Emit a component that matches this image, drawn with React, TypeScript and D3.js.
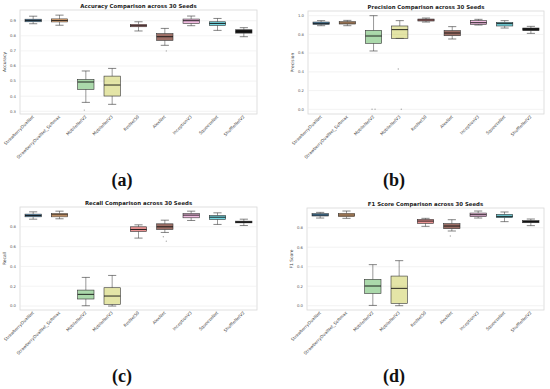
import * as React from 'react';
import { scaleBand, scaleLinear } from 'd3';

// models on the x axis
const models = [
  'StrawberryDualNet', 'StrawberryDualNet_Softmax', 'MobileNetV2', 'MobileNetV3',
  'ResNet50', 'AlexNet', 'InceptionV3', 'SqueezeNet', 'ShuffleNetV2'
];

// box colours per model
const boxColors = ['#1f77b4', '#ff7f0e', '#2ca02c', '#bcbd22', '#d62728', '#8c564b', '#e377c2', '#17becf', '#000000'];
const boxAlpha = [0.75, 0.5, 0.4, 0.4, 0.5, 0.85, 0.5, 0.6, 0.9];

// [whiskerLow, q1, median, q3, whiskerHigh]
const accuracyBoxes = [
  [0.880, 0.893, 0.902, 0.910, 0.930],
  [0.870, 0.892, 0.902, 0.912, 0.937],
  [0.359, 0.445, 0.494, 0.511, 0.567],
  [0.346, 0.401, 0.474, 0.533, 0.584],
  [0.832, 0.860, 0.867, 0.876, 0.893],
  [0.737, 0.770, 0.794, 0.814, 0.849],
  [0.867, 0.882, 0.900, 0.911, 0.931],
  [0.836, 0.869, 0.882, 0.893, 0.915],
  [0.794, 0.818, 0.829, 0.840, 0.854],
];
const accuracyOutliers = [[2, 0.308], [5, 0.700]];

const precisionBoxes = [
  [0.893, 0.907, 0.918, 0.932, 0.947],
  [0.893, 0.911, 0.922, 0.936, 0.950],
  [0.623, 0.705, 0.783, 0.843, 1.000],
  [0.758, 0.758, 0.851, 0.890, 0.947],
  [0.932, 0.943, 0.954, 0.964, 0.975],
  [0.751, 0.786, 0.815, 0.840, 0.883],
  [0.900, 0.907, 0.925, 0.947, 0.961],
  [0.868, 0.890, 0.915, 0.929, 0.947],
  [0.811, 0.840, 0.858, 0.868, 0.886],
];
const precisionOutliers = [[2, 0.0], [2, 0.0], [3, 0.43], [3, 0.0]];

const recallBoxes = [
  [0.877, 0.901, 0.914, 0.928, 0.951],
  [0.881, 0.901, 0.921, 0.934, 0.958],
  [0.003, 0.071, 0.118, 0.161, 0.289],
  [0.000, 0.017, 0.101, 0.185, 0.309],
  [0.686, 0.753, 0.773, 0.800, 0.820],
  [0.743, 0.773, 0.800, 0.830, 0.867],
  [0.864, 0.891, 0.918, 0.934, 0.958],
  [0.824, 0.874, 0.897, 0.914, 0.941],
  [0.813, 0.840, 0.847, 0.857, 0.877],
];
const recallOutliers = [[5, 0.700], [5, 0.655]];

const f1Boxes = [
  [0.899, 0.920, 0.930, 0.944, 0.957],
  [0.896, 0.913, 0.930, 0.947, 0.971],
  [0.003, 0.126, 0.202, 0.270, 0.421],
  [0.000, 0.024, 0.178, 0.304, 0.462],
  [0.814, 0.844, 0.868, 0.885, 0.896],
  [0.766, 0.790, 0.817, 0.841, 0.882],
  [0.899, 0.913, 0.933, 0.950, 0.971],
  [0.862, 0.903, 0.916, 0.937, 0.961],
  [0.821, 0.851, 0.862, 0.872, 0.889],
];
const f1Outliers = [[5, 0.715]];

const accuracyTicks = [0.3, 0.4, 0.5, 0.6, 0.7, 0.8, 0.9];
const precisionTicks = [0.0, 0.2, 0.4, 0.6, 0.8, 1.0];
const recallTicks = [0.0, 0.2, 0.4, 0.6, 0.8];
const f1Ticks = [0.0, 0.2, 0.4, 0.6, 0.8];

interface PanelProps {
  title: string,
  yLabel: string,
  boxes: number[][],
  outliers: number[][],
  ticks: number[],
  yDomain: [number, number],
  frame: { left: number, right: number, top: number, bottom: number },
  tag: string,
  tagPos: [number, number]
}

const Panel = ({ title, yLabel, boxes, outliers, ticks, yDomain, frame, tag, tagPos }: PanelProps) => {
  const x = scaleBand<string>().domain(models).range([frame.left, frame.right]).padding(0);
  const y = scaleLinear().domain(yDomain).range([frame.bottom, frame.top]);
  const bw = x.bandwidth() * 0.62;
  const cap = bw * 0.5;
  const cx = (m: string) => (x(m) || 0) + x.bandwidth() / 2;

  return (
    <g>
      <rect x={frame.left} y={frame.top} width={frame.right - frame.left} height={frame.bottom - frame.top}
        fill="white" stroke="#d8d8d8" strokeWidth={0.8} />
      {ticks.map(t => (
        <g key={t}>
          <line x1={frame.left} x2={frame.right} y1={y(t)} y2={y(t)} stroke="#ebebeb" strokeWidth={0.6} />
          <text x={frame.left - 4} y={y(t)} dy="0.35em" textAnchor="end" fontSize={3.8} fill="#555"
            fontFamily="DejaVu Sans">{t.toFixed(1)}</text>
        </g>
      ))}
      {models.map((m, i) => {
        const [lo, q1, med, q3, hi] = boxes[i];
        const c = cx(m);
        return (
          <g key={m}>
            <line x1={c} x2={c} y1={y(hi)} y2={y(q3)} stroke="#333" strokeWidth={0.5} />
            <line x1={c} x2={c} y1={y(q1)} y2={y(lo)} stroke="#333" strokeWidth={0.5} />
            <line x1={c - cap / 2} x2={c + cap / 2} y1={y(hi)} y2={y(hi)} stroke="#333" strokeWidth={0.6} />
            <line x1={c - cap / 2} x2={c + cap / 2} y1={y(lo)} y2={y(lo)} stroke="#333" strokeWidth={0.6} />
            <rect x={c - bw / 2} y={y(q3)} width={bw} height={Math.max(0.5, y(q1) - y(q3))}
              fill={boxColors[i]} fillOpacity={boxAlpha[i]} stroke="#333" strokeWidth={0.6} />
            <line x1={c - bw / 2} x2={c + bw / 2} y1={y(med)} y2={y(med)} stroke="#111" strokeWidth={0.9} />
          </g>
        );
      })}
      {outliers.map((o, k) => (
        <circle key={k} cx={cx(models[o[0]]) + (k % 2 ? 1.5 : -1.5)} cy={y(o[1])} r={0.7} fill="#aaa" />
      ))}
      {models.map(m => (
        <text key={m} transform={`translate(${cx(m) + 1},${frame.bottom + 3}) rotate(-45)`} textAnchor="end"
          fontSize={4.2} fill="#444" fontFamily="DejaVu Sans">{m}</text>
      ))}
      <text x={(frame.left + frame.right) / 2} y={frame.top - 2.5} textAnchor="middle" fontSize={5.4}
        fontWeight="bold" fill="#222" fontFamily="DejaVu Sans">{title}</text>
      <text transform={`translate(${frame.left - 14},${(frame.top + frame.bottom) / 2}) rotate(-90)`}
        textAnchor="middle" fontSize={4.4} fill="#444" fontFamily="DejaVu Sans">{yLabel}</text>
      <text x={tagPos[0]} y={tagPos[1]} textAnchor="middle" fontSize={18} fontWeight="bold" fill="#111"
        fontFamily="Liberation Serif">{tag}</text>
    </g>
  );
};

const App = () => {
  return (
    <svg width={550} height={389} style={{ position: 'absolute', left: 0, top: 0, background: 'white' }}>
      <Panel title="Accuracy Comparison across 30 Seeds" yLabel="Accuracy" boxes={accuracyBoxes}
        outliers={accuracyOutliers} ticks={accuracyTicks} yDomain={[0.282, 0.971]}
        frame={{ left: 20, right: 257, top: 10, bottom: 114 }} tag="(a)" tagPos={[122, 186]} />
      <Panel title="Precision Comparison across 30 Seeds" yLabel="Precision" boxes={precisionBoxes}
        outliers={precisionOutliers} ticks={precisionTicks} yDomain={[-0.05, 1.05]}
        frame={{ left: 308, right: 544, top: 11, bottom: 114 }} tag="(b)" tagPos={[394, 186]} />
      <Panel title="Recall Comparison across 30 Seeds" yLabel="Recall" boxes={recallBoxes}
        outliers={recallOutliers} ticks={recallTicks} yDomain={[-0.04, 1.0]}
        frame={{ left: 20, right: 257, top: 207, bottom: 310 }} tag="(c)" tagPos={[122, 382]} />
      <Panel title="F1 Score Comparison across 30 Seeds" yLabel="F1 Score" boxes={f1Boxes}
        outliers={f1Outliers} ticks={f1Ticks} yDomain={[-0.044, 1.002]}
        frame={{ left: 307, right: 544, top: 208, bottom: 310 }} tag="(d)" tagPos={[394, 382]} />
    </svg>
  );
};

export default App;
